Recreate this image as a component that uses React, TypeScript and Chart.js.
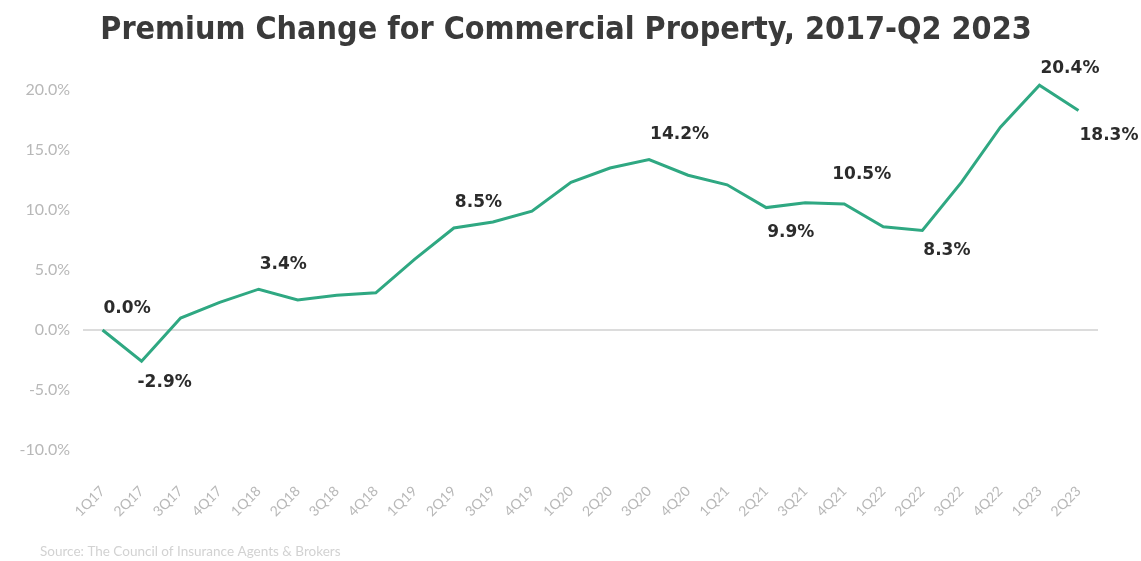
import React, { useEffect, useRef } from "react";
import { Chart, registerables } from "chart.js";

Chart.register(...registerables);

const quarters = [
  "1Q17", "2Q17", "3Q17", "4Q17",
  "1Q18", "2Q18", "3Q18", "4Q18",
  "1Q19", "2Q19", "3Q19", "4Q19",
  "1Q20", "2Q20", "3Q20", "4Q20",
  "1Q21", "2Q21", "3Q21", "4Q21",
  "1Q22", "2Q22", "3Q22", "4Q22",
  "1Q23", "2Q23",
];

const premiumChange = [
  0.0, -2.6, 1.0, 2.3,
  3.4, 2.5, 2.9, 3.1,
  5.9, 8.5, 9.0, 9.9,
  12.3, 13.5, 14.2, 12.9,
  12.1, 10.2, 10.6, 10.5,
  8.6, 8.3, 12.3, 16.9,
  20.4, 18.3,
];

const labelTexts: (string | null)[] = [
  "0.0%", "-2.9%", null, null,
  "3.4%", null, null, null,
  null, "8.5%", null, null,
  null, null, "14.2%", null,
  null, "9.9%", null, "10.5%",
  null, "8.3%", null, null,
  "20.4%", "18.3%",
];

const labelPlacement: ("above" | "below" | null)[] = [
  "above", "below", null, null,
  "above", null, null, null,
  null, "above", null, null,
  null, null, "above", null,
  null, "below", null, "above",
  null, "below", null, null,
  "above", "below",
];

const yTickValues = [-10, -5, 0, 5, 10, 15, 20];

const titleText = "Premium Change for Commercial Property, 2017-Q2 2023";
const sourceText = "Source: The Council of Insurance Agents & Brokers";

const pointLabelsPlugin = {
  id: "pointLabels",
  afterDatasetsDraw(chart: any) {
    const meta = chart.getDatasetMeta(0);
    const ctx = chart.ctx;
    ctx.save();
    ctx.font = "bold 17px 'DejaVu Sans'";
    ctx.fillStyle = "#2b2b2b";
    ctx.textAlign = "left";
    ctx.textBaseline = "middle";
    meta.data.forEach((pt: any, i: number) => {
      const t = labelTexts[i];
      if (!t) return;
      const place = labelPlacement[i];
      let dx = 1;
      let dy = place === "above" ? -25 : 25;
      if (i === 19) { dx = -12; dy = -29; }
      if (i === 24) { dy = -17; }
      if (i === 0) { dy = -21; }
      if (i === 1) { dx = -4; dy = 21; }
      if (i === 21) { dy = 20; }
      ctx.fillText(t, pt.x + dx, pt.y + dy);
    });
    ctx.restore();
  },
};

const textPlugin = {
  id: "titleAndSource",
  afterDraw(chart: any) {
    const ctx = chart.ctx;
    ctx.save();
    ctx.textBaseline = "middle";
    ctx.textAlign = "center";
    ctx.fillStyle = "#3a3a3a";
    ctx.font = "bold 32px 'DejaVu Sans Condensed', 'DejaVu Sans'";
    ctx.fillText(titleText, 566, 31);
    ctx.textAlign = "left";
    ctx.fillStyle = "#d2d2d2";
    ctx.font = "13.5px Lato";
    ctx.fillText(sourceText, 40, 552);
    ctx.restore();
  },
};

export default function App() {
  const ref = useRef<HTMLCanvasElement | null>(null);

  useEffect(() => {
    if (!ref.current) return;
    const chart = new Chart(ref.current, {
      type: "line",
      data: {
        labels: quarters,
        datasets: [
          {
            data: premiumChange,
            borderColor: "#2fa882",
            borderWidth: 3,
            pointRadius: 0,
            tension: 0,
            fill: false,
          },
        ],
      },
      options: {
        animation: false,
        responsive: false,
        maintainAspectRatio: false,
        layout: { padding: { left: 0, right: 43, top: 66, bottom: 29 } },
        plugins: {
          legend: { display: false },
          tooltip: { enabled: false },
          title: { display: false },
        },
        scales: {
          x: {
            type: "category",
            offset: true,
            grid: { display: false },
            border: { display: false },
            ticks: {
              color: "#b8b8b8",
              font: { family: "Lato", size: 14 },
              maxRotation: 45,
              minRotation: 45,
              autoSkip: false,
              padding: -5,
            },
            afterFit(scale: any) {
              scale.height = 52;
            },
          },
          y: {
            min: -12.5,
            max: 22,
            border: { display: false },
            grid: {
              color: (c: any) => (c.tick && c.tick.value === 0 ? "#dcdcdc" : "rgba(0,0,0,0)"),
              lineWidth: 2,
              drawTicks: false,
            },
            afterBuildTicks(scale: any) {
              scale.ticks = yTickValues.map((v) => ({ value: v }));
            },
            ticks: {
              color: "#b8b8b8",
              font: { family: "Lato", size: 16 },
              padding: 13,
              callback: (v: any) => Number(v).toFixed(1) + "%",
            },
            afterFit(scale: any) {
              scale.width = 83;
            },
          },
        },
      },
      plugins: [pointLabelsPlugin, textPlugin],
    });
    return () => chart.destroy();
  }, []);

  return (
    <div style={{ position: "fixed", left: 0, top: 0, width: 1141, height: 561, background: "#fff" }}>
      <canvas ref={ref} width={1141} height={561} style={{ width: 1141, height: 561 }} />
    </div>
  );
}
